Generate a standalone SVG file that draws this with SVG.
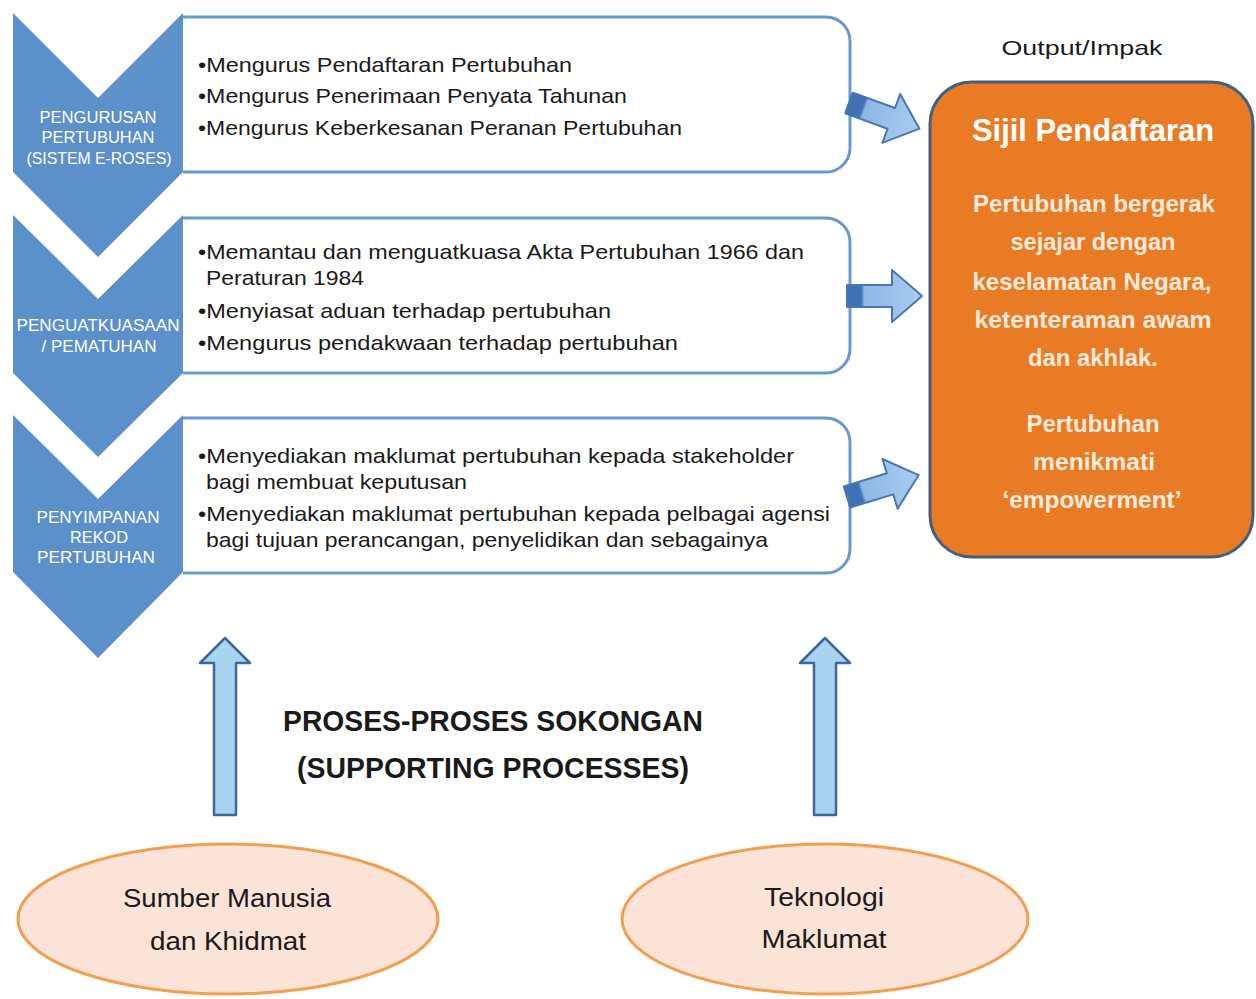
<svg xmlns="http://www.w3.org/2000/svg" width="1256" height="999" viewBox="0 0 1256 999">
<style>
  .chev { fill: #5B90CB; }
  .box { fill: #FFFFFF; stroke: #6A98D0; stroke-width: 3; }
  .clab { font-family: "Liberation Sans", Arial, sans-serif; font-size: 16px; fill: #FFFFFF; text-anchor: middle; }
  .body { font-family: "Liberation Sans", Arial, sans-serif; font-size: 21px; fill: #1A1A1A; }
  .out { fill: #E97B24; stroke: #41607F; stroke-width: 3; }
  .otxt { font-family: "Liberation Sans", Arial, sans-serif; font-weight: bold; font-size: 23px; fill: #FCEBDD; text-anchor: middle; }
  .harrow { fill: url(#hgrad); stroke: #4A76AE; stroke-width: 2; stroke-linejoin: round; }
  .varrow { fill: #A7D3EE; stroke: #41689C; stroke-width: 2.5; stroke-linejoin: round; }
  .ell { fill: #FBE3D8; stroke: #F0A050; stroke-width: 3; }
  .etxt { font-family: "Liberation Sans", Arial, sans-serif; font-size: 25px; fill: #1A1A1A; text-anchor: middle; }
  .title { font-family: "Liberation Sans", Arial, sans-serif; font-weight: bold; font-size: 30px; fill: #1A1A1A; text-anchor: middle; }
</style>
<defs>
  <linearGradient id="hgrad" x1="0" y1="0" x2="1" y2="0">
    <stop offset="0" stop-color="#3F72B5"/>
    <stop offset="0.19" stop-color="#3F72B5"/>
    <stop offset="0.23" stop-color="#8FB8E6"/>
    <stop offset="1" stop-color="#A9CCEF"/>
  </linearGradient>
  <path id="harrowShape" d="M0,-11 L45,-11 L45,-26 L75,0 L45,26 L45,11 L0,11 Z"/>
</defs>

<rect width="1256" height="999" fill="#FFFFFF"/>

<g id="box1">
  <path class="box" d="M183,17 H826 A24,24 0 0 1 850,41 V148 A24,24 0 0 1 826,172 H183"/>
  <text class="body" x="198" y="72" textLength="374" lengthAdjust="spacingAndGlyphs">•Mengurus Pendaftaran Pertubuhan</text>
  <text class="body" x="198" y="103" textLength="429" lengthAdjust="spacingAndGlyphs">•Mengurus Penerimaan Penyata Tahunan</text>
  <text class="body" x="198" y="135" textLength="484" lengthAdjust="spacingAndGlyphs">•Mengurus Keberkesanan Peranan Pertubuhan</text>
</g>
<g id="box2">
  <path class="box" d="M183,218 H826 A24,24 0 0 1 850,242 V349 A24,24 0 0 1 826,373 H183"/>
  <text class="body" x="198" y="259" textLength="606" lengthAdjust="spacingAndGlyphs">•Memantau dan menguatkuasa Akta Pertubuhan 1966 dan</text>
  <text class="body" x="206" y="285" textLength="158" lengthAdjust="spacingAndGlyphs">Peraturan 1984</text>
  <text class="body" x="198" y="318" textLength="413" lengthAdjust="spacingAndGlyphs">•Menyiasat aduan terhadap pertubuhan</text>
  <text class="body" x="198" y="350" textLength="480" lengthAdjust="spacingAndGlyphs">•Mengurus pendakwaan terhadap pertubuhan</text>
</g>
<g id="box3">
  <path class="box" d="M183,418 H826 A24,24 0 0 1 850,442 V549 A24,24 0 0 1 826,573 H183"/>
  <text class="body" x="198" y="463" textLength="596" lengthAdjust="spacingAndGlyphs">•Menyediakan maklumat pertubuhan kepada stakeholder</text>
  <text class="body" x="206" y="489" textLength="261" lengthAdjust="spacingAndGlyphs">bagi membuat keputusan</text>
  <text class="body" x="198" y="521" textLength="632" lengthAdjust="spacingAndGlyphs">•Menyediakan maklumat pertubuhan kepada pelbagai agensi</text>
  <text class="body" x="206" y="547" textLength="562" lengthAdjust="spacingAndGlyphs">bagi tujuan perancangan, penyelidikan dan sebagainya</text>
</g>

<g id="chevron1">
  <polygon class="chev" points="13,13 98,98 183,13 183,172 98,257 13,172"/>
  <text class="clab" x="98" y="123" textLength="117" lengthAdjust="spacingAndGlyphs">PENGURUSAN</text>
  <text class="clab" x="98" y="143" textLength="113" lengthAdjust="spacingAndGlyphs">PERTUBUHAN</text>
  <text class="clab" x="99" y="164" textLength="145" lengthAdjust="spacingAndGlyphs">(SISTEM E-ROSES)</text>
</g>
<g id="chevron2">
  <polygon class="chev" points="13,215 98,299 183,215 183,373 98,457 13,373"/>
  <text class="clab" x="98" y="331" textLength="163" lengthAdjust="spacingAndGlyphs">PENGUATKUASAAN</text>
  <text class="clab" x="99" y="352" textLength="115" lengthAdjust="spacingAndGlyphs">/ PEMATUHAN</text>
</g>
<g id="chevron3">
  <polygon class="chev" points="13,415 98,499 183,415 183,572 98,658 13,572"/>
  <text class="clab" x="98" y="523" textLength="123" lengthAdjust="spacingAndGlyphs">PENYIMPANAN</text>
  <text class="clab" x="99" y="543" textLength="58" lengthAdjust="spacingAndGlyphs">REKOD</text>
  <text class="clab" x="96" y="563" textLength="118" lengthAdjust="spacingAndGlyphs">PERTUBUHAN</text>
</g>

<g id="output-label">
  <text x="1082" y="55" font-family="Liberation Sans, Arial, sans-serif" font-size="21" fill="#1A1A1A" text-anchor="middle" textLength="161" lengthAdjust="spacingAndGlyphs">Output/Impak</text>
</g>

<g id="output">
  <rect class="out" x="930" y="82" width="323" height="475" rx="42"/>
  <text class="otxt" x="1093" y="141" textLength="242" lengthAdjust="spacingAndGlyphs" style="font-size:31px;fill:#FFFFFF">Sijil Pendaftaran</text>
  <text class="otxt" x="1094" y="212" textLength="242" lengthAdjust="spacingAndGlyphs">Pertubuhan bergerak</text>
  <text class="otxt" x="1093" y="250" textLength="165" lengthAdjust="spacingAndGlyphs">sejajar dengan</text>
  <text class="otxt" x="1092" y="290" textLength="239" lengthAdjust="spacingAndGlyphs">keselamatan Negara,</text>
  <text class="otxt" x="1093" y="328" textLength="237" lengthAdjust="spacingAndGlyphs">ketenteraman awam</text>
  <text class="otxt" x="1093" y="366" textLength="130" lengthAdjust="spacingAndGlyphs">dan akhlak.</text>
  <text class="otxt" x="1093" y="432" textLength="133" lengthAdjust="spacingAndGlyphs">Pertubuhan</text>
  <text class="otxt" x="1094" y="470" textLength="122" lengthAdjust="spacingAndGlyphs">menikmati</text>
  <text class="otxt" x="1092" y="508" textLength="179" lengthAdjust="spacingAndGlyphs">‘empowerment’</text>
</g>

<g id="support-title">
  <text class="title" x="493" y="731" textLength="420" lengthAdjust="spacingAndGlyphs">PROSES-PROSES SOKONGAN</text>
  <text class="title" x="493" y="778" textLength="392" lengthAdjust="spacingAndGlyphs">(SUPPORTING PROCESSES)</text>
</g>

<g id="hr-node">
  <ellipse class="ell" cx="228" cy="919" rx="210" ry="75"/>
  <text class="etxt" x="227" y="907" textLength="208" lengthAdjust="spacingAndGlyphs">Sumber Manusia</text>
  <text class="etxt" x="228" y="950" textLength="156" lengthAdjust="spacingAndGlyphs">dan Khidmat</text>
</g>
<g id="it-node">
  <ellipse class="ell" cx="825" cy="919" rx="203" ry="75"/>
  <text class="etxt" x="824" y="906" textLength="120" lengthAdjust="spacingAndGlyphs">Teknologi</text>
  <text class="etxt" x="824" y="948" textLength="125" lengthAdjust="spacingAndGlyphs">Maklumat</text>
</g>

<g id="connectors">
  <use href="#harrowShape" class="harrow" transform="translate(849,103) rotate(20)"/>
  <use href="#harrowShape" class="harrow" transform="translate(847,296)"/>
  <use href="#harrowShape" class="harrow" transform="translate(847,497) rotate(-17)"/>
  <path class="varrow" d="M214,815 L214,663 L200,663 L225,638 L250,663 L236,663 L236,815 Z"/>
  <path class="varrow" d="M814,815 L814,663 L800,663 L825,638 L850,663 L836,663 L836,815 Z"/>
</g>
</svg>
